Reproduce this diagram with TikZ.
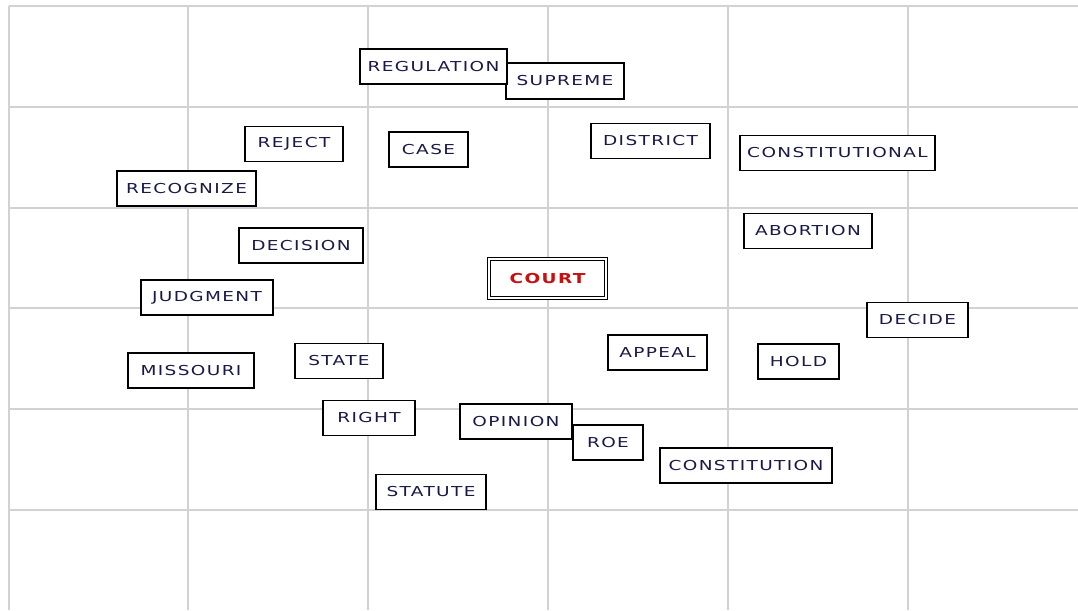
\documentclass[tikz,border=0pt]{standalone}
\usepackage{fontspec}
\setmainfont{DejaVu Sans}
\newfontfamily\wordfont[LetterSpace=10,FakeStretch=1.35]{DejaVu Sans}
\begin{document}
\begin{tikzpicture}[x=1pt,y=-1pt,
  gridline/.style={draw=gray!35, line width=1.4pt},
  wbox/.style={draw=black, line width=1.4pt, fill=white, minimum height=35pt,
    inner sep=0pt, text={rgb,255:red,26;green,26;blue,72}, font=\wordfont\fontsize{13.7}{14}\selectfont},
  centerbox/.style={draw=black, line width=1.1pt, fill=white,
    minimum width=120pt, minimum height=42pt, inner sep=0pt,
    text={rgb,255:red,200;green,16;blue,16}, font=\wordfont\fontsize{13.7}{14}\selectfont\bfseries},
  innerline/.style={draw=black, line width=1.1pt}]
\useasboundingbox (0,0) rectangle (1078,610);
\fill[white] (0,0) rectangle (1078,610);
% grid
\foreach \gx in {9,188,368,548,728,908} \draw[gridline] (\gx,6) -- (\gx,610);
\foreach \gy in {6,107,208,308,409,510} \draw[gridline] (9,\gy) -- (1078,\gy);
% word boxes
\node[wbox, minimum width=118pt, minimum height=36pt] (supreme) at (565,81) {SUPREME};
\node[wbox, minimum width=147pt] (regulation) at (433.5,66.5) {REGULATION};
\node[wbox, minimum width=79pt] (case) at (428.5,149.5) {CASE};
\node[wbox, minimum width=119pt] (district) at (650.5,141) {DISTRICT};
\node[wbox, minimum width=98pt] (reject) at (294,144) {REJECT};
\node[wbox, minimum width=139pt] (recognize) at (186.5,188.5) {RECOGNIZE};
\node[wbox, minimum width=195pt] (constitutional) at (837.5,153) {CONSTITUTIONAL};
\node[wbox, minimum width=128pt] (abortion) at (808,231) {ABORTION};
\node[wbox, minimum width=124pt] (decision) at (301,245.5) {DECISION};
\node[centerbox] (court) at (547.5,278.5) {COURT};
\draw[innerline] ([xshift=3.5pt,yshift=-3.5pt]court.north west) rectangle ([xshift=-3.5pt,yshift=3.5pt]court.south east);
\node[wbox, minimum width=132pt] (judgment) at (207,297.5) {JUDGMENT};
\node[wbox, minimum width=101pt] (decide) at (917.5,320) {DECIDE};
\node[wbox, minimum width=99pt] (appeal) at (657.5,352.5) {APPEAL};
\node[wbox, minimum width=88pt] (state) at (339,361) {STATE};
\node[wbox, minimum width=81pt] (hold) at (798.5,361.5) {HOLD};
\node[wbox, minimum width=126pt] (missouri) at (191,370.5) {MISSOURI};
\node[wbox, minimum width=92pt] (right) at (369,418) {RIGHT};
\node[wbox, minimum width=70pt] (roe) at (608,442.5) {ROE};
\node[wbox, minimum width=112pt] (opinion) at (516,421.5) {OPINION};
\node[wbox, minimum width=172pt] (constitution) at (746,465.5) {CONSTITUTION};
\node[wbox, minimum width=110pt] (statute) at (431,492) {STATUTE};
\end{tikzpicture}
\end{document}
